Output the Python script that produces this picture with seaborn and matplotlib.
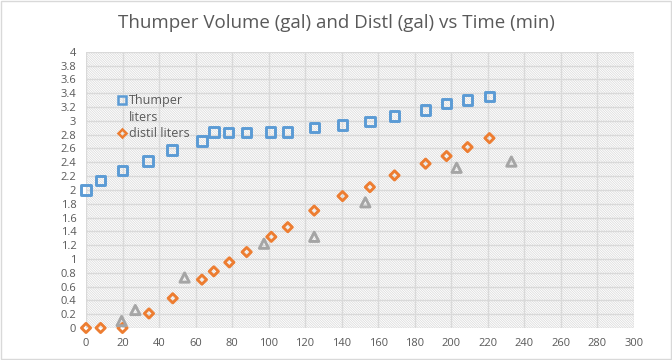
import matplotlib
matplotlib.use("Agg")
import matplotlib.pyplot as plt
import matplotlib.patches as mpatches
from matplotlib.lines import Line2D
import numpy as np
import pandas as pd
import seaborn as sns

# --- data ---
thumper_t = [0, 8, 20, 34, 47, 63.5, 70, 78, 88, 101, 110.5, 125, 140.5, 155.5, 169, 186, 197.5, 209, 221]
thumper_v = [2.0, 2.14, 2.28, 2.42, 2.58, 2.71, 2.84, 2.83, 2.83, 2.84, 2.84, 2.90, 2.94, 2.99, 3.07, 3.16, 3.25, 3.30, 3.35]

distil_t = [0, 8, 20, 34.5, 47.5, 63.5, 70, 78.5, 88, 101.5, 110.5, 125, 140.5, 155.5, 169, 186, 197.5, 209, 221]
distil_v = [0, 0, 0, 0.21, 0.43, 0.70, 0.82, 0.95, 1.10, 1.32, 1.46, 1.70, 1.91, 2.04, 2.21, 2.38, 2.49, 2.62, 2.75]

other_t = [19.5, 27, 54, 97.5, 125, 153, 203, 233]
other_v = [0.10, 0.26, 0.73, 1.22, 1.32, 1.82, 2.32, 2.41]

x_ticks = np.arange(0, 301, 20)
y_ticks = np.round(np.arange(0, 4.01, 0.2), 1)

BLUE = "#5B9BD5"
ORANGE = "#ED7D31"
GRAY = "#A5A5A5"
TXT = "#595959"
GRID = "#D9D9D9"

sns.set_theme(style="white")
plt.rcParams["font.family"] = ["Open Sans", "DejaVu Sans"]
plt.rcParams["hatch.linewidth"] = 0.5
plt.rcParams["hatch.color"] = "#D8D8D8"

fig = plt.figure(figsize=(6.72, 3.6), dpi=100)
ax = fig.add_axes([0.128, 0.089, 0.815, 0.767])

# hatched plot area
bg = mpatches.Rectangle((0, 0), 1, 1, transform=ax.transAxes, facecolor="white",
                        edgecolor="#D8D8D8", hatch="\\" * 14, linewidth=0, zorder=0)
ax.add_patch(bg)

df_th = pd.DataFrame({"t": thumper_t, "v": thumper_v})
df_di = pd.DataFrame({"t": distil_t, "v": distil_v})
df_ot = pd.DataFrame({"t": other_t, "v": other_v})

sns.scatterplot(data=df_th, x="t", y="v", ax=ax, marker="s", s=46, facecolor="none",
                edgecolor=BLUE, linewidth=2.1, legend=False, clip_on=False, zorder=3)
sns.scatterplot(data=df_di, x="t", y="v", ax=ax, marker="D", s=22, facecolor="none",
                edgecolor=ORANGE, linewidth=2.1, legend=False, clip_on=False, zorder=3)
sns.scatterplot(data=df_ot, x="t", y="v", ax=ax, marker="^", s=44, facecolor="none",
                edgecolor=GRAY, linewidth=2.1, legend=False, clip_on=False, zorder=3)

ax.set_xlim(0, 300)
ax.set_ylim(0, 4)
ax.set_xticks(x_ticks)
ax.set_yticks(y_ticks)
ax.set_yticklabels([f"{v:g}" for v in y_ticks])
ax.grid(True, color=GRID, linewidth=1)
for sp in ax.spines.values():
    sp.set_visible(False)
ax.tick_params(axis="both", length=0, labelsize=8, labelcolor=TXT)
ax.tick_params(axis="y", pad=7)
ax.tick_params(axis="x", pad=7)
ax.set_xlabel("")
ax.set_ylabel("")
ax.set_axisbelow(True)

handles = [
    Line2D([], [], ls="none", marker="s", ms=6, mfc="none", mec=BLUE, mew=1.8),
    Line2D([], [], ls="none"),
    Line2D([], [], ls="none", marker="D", ms=4.5, mfc="none", mec=ORANGE, mew=1.8),
]
leg = ax.legend(handles, ["Thumper", "liters", "distil liters"], loc="upper left",
                bbox_to_anchor=(0.056, 0.846), frameon=False, fontsize=9,
                handletextpad=0.2, labelspacing=0.28, borderpad=0, borderaxespad=0,
                handlelength=0.8)
for t in leg.get_texts():
    t.set_color(TXT)

fig.text(0.5, 0.935, "Thumper Volume (gal) and Distl (gal) vs Time (min)",
         ha="center", va="center", fontsize=13.5, color=TXT)

# chart area border
fig.patches.append(mpatches.Rectangle((0.001, 0.002), 0.997, 0.995, transform=fig.transFigure,
                                      fill=False, edgecolor=GRID, linewidth=1))

fig.savefig("out.png", dpi=100)
